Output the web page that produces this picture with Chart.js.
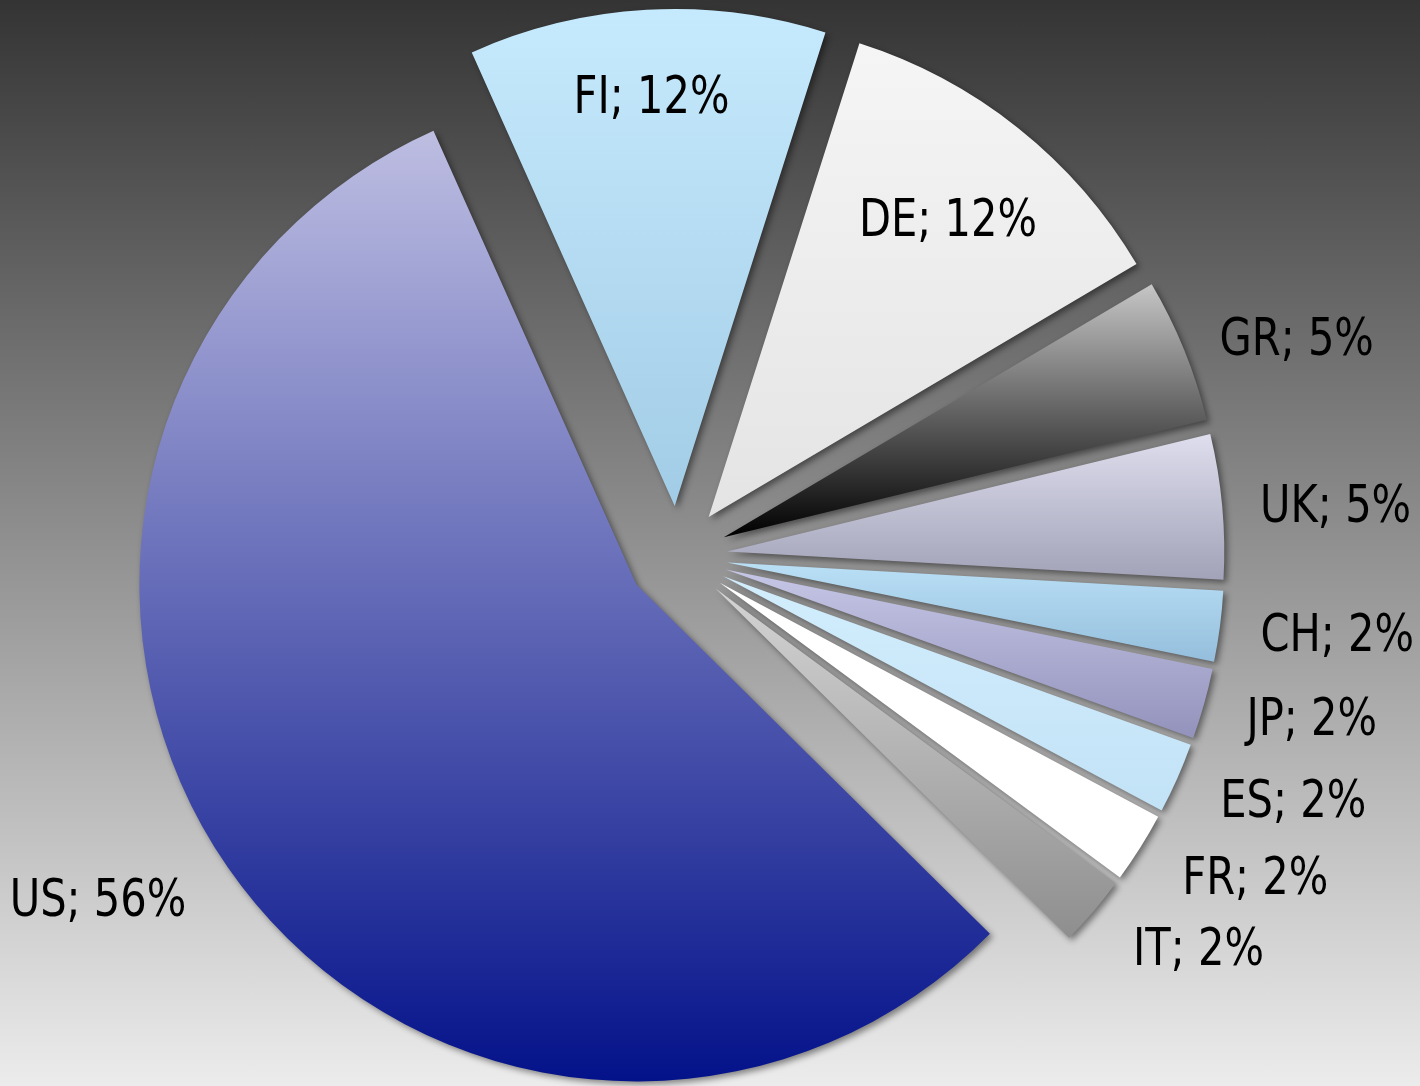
<!DOCTYPE html>
<html>
<head>
<meta charset="utf-8">
<script src="https://cdn.jsdelivr.net/npm/chart.js@4.4.1/dist/chart.umd.min.js"></script>
<style>
  html, body { margin: 0; padding: 0; }
  #wrap {
    width: 1420px; height: 1086px;
    background: linear-gradient(to bottom, #343434 0%, #ececec 100%);
  }
</style>
</head>
<body>
<div id="wrap"><canvas id="shareChart" width="1420" height="1086"></canvas></div>
<script>
// countries, clockwise from the top-left edge of FI
var countries = ["FI", "DE", "GR", "UK", "CH", "JP", "ES", "FR", "IT", "US"];
// share of total in percent
var shares = [11.6, 11.6, 4.7, 4.7, 2.3, 2.3, 2.3, 2.3, 2.3, 55.9];

// gradient colours per slice, top -> bottom
var topColors    = ["#c6eafd", "#f5f5f5", "#c6c6c6", "#dedeee", "#bae0f6", "#c6c6e6", "#d2eefd", "#ffffff", "#d4d4d4", "#bebee2"];
var bottomColors = ["#a2cce6", "#e4e4e4", "#000000", "#a2a2b8", "#94bedc", "#9292bc", "#c2e2f6", "#ffffff", "#8e8e8e", "#04128a"];
var insideLabels = ["FI", "DE"];

var ROTATION = -24.1;   // degrees
var RADIUS = 497;
var EXPLODE = 50;
var TEXT_SQUEEZE = 0.89; // the original font is narrower than DejaVu

var total = shares.reduce(function (a, b) { return a + b; }, 0);

function sliceGradient(context) {
  var chart = context.chart;
  var area = chart.chartArea;
  var i = context.dataIndex;
  if (!area) return topColors[i];
  var before = 0;
  for (var k = 0; k < i; k++) before += shares[k];
  var start = ROTATION * Math.PI / 180 - Math.PI / 2 + before / total * Math.PI * 2;
  var end = start + shares[i] / total * Math.PI * 2;
  var cy = (area.top + area.bottom) / 2;
  var ys = [cy, cy + RADIUS * Math.sin(start), cy + RADIUS * Math.sin(end)];
  // check top / bottom extremes inside the angle range
  [Math.PI / 2, -Math.PI / 2, Math.PI * 1.5, -Math.PI * 1.5].forEach(function (a) {
    if (a > start && a < end) ys.push(cy + RADIUS * Math.sin(a));
  });
  var y0 = Math.min.apply(null, ys), y1 = Math.max.apply(null, ys);
  var g = chart.ctx.createLinearGradient(0, y0, 0, y1);
  g.addColorStop(0, topColors[i]);
  g.addColorStop(1, bottomColors[i]);
  return g;
}

// pull every slice out along its bisector, with a soft drop shadow
var explodePlugin = {
  id: 'explode',
  beforeDatasetDraw: function (chart, args) {
    var ctx = chart.ctx;
    args.meta.data.forEach(function (arc) {
      var mid = (arc.startAngle + arc.endAngle) / 2;
      ctx.save();
      ctx.translate(Math.cos(mid) * EXPLODE, Math.sin(mid) * EXPLODE);
      ctx.shadowColor = 'rgba(0,0,0,0.45)';
      ctx.shadowBlur = 6;
      ctx.shadowOffsetX = 3;
      ctx.shadowOffsetY = 3;
      arc.draw(ctx, chart.chartArea);
      ctx.restore();
    });
    return false;
  }
};

var labelPlugin = {
  id: 'sliceLabels',
  afterDatasetsDraw: function (chart) {
    var ctx = chart.ctx;
    var meta = chart.getDatasetMeta(0);
    meta.data.forEach(function (arc, i) {
      var mid = (arc.startAngle + arc.endAngle) / 2;
      var cx = arc.x + Math.cos(mid) * EXPLODE;
      var cy = arc.y + Math.sin(mid) * EXPLODE;
      var text = countries[i] + '; ' + Math.round(shares[i] / total * 100) + '%';
      var r, align;
      if (insideLabels.indexOf(countries[i]) >= 0) {
        r = arc.outerRadius - 81 - 51 * Math.abs(Math.cos(mid));
        align = 'center';
      } else {
        r = arc.outerRadius + 38 + 22 * Math.max(0, Math.sin(mid));
        align = Math.cos(mid) >= 0 ? 'left' : 'right';
      }
      ctx.save();
      ctx.translate(cx + Math.cos(mid) * r, cy + Math.sin(mid) * r + 6);
      ctx.scale(TEXT_SQUEEZE, 1);
      ctx.font = '52px "DejaVu Sans Condensed", "DejaVu Sans", sans-serif';
      ctx.fillStyle = '#000';
      ctx.textBaseline = 'middle';
      ctx.textAlign = align;
      ctx.fillText(text, 0, 0);
      ctx.restore();
    });
  }
};

var shareChart = new Chart(document.getElementById('shareChart'), {
  type: 'pie',
  data: {
    labels: countries,
    datasets: [{
      data: shares,
      backgroundColor: sliceGradient,
      borderWidth: 0
    }]
  },
  options: {
    responsive: false,
    animation: false,
    events: [],
    rotation: ROTATION,
    radius: RADIUS,
    layout: { padding: { left: 0, right: 65, top: 26, bottom: 0 } },
    plugins: {
      legend: { display: false },
      tooltip: { enabled: false }
    }
  },
  plugins: [explodePlugin, labelPlugin]
});
</script>
</body>
</html>
